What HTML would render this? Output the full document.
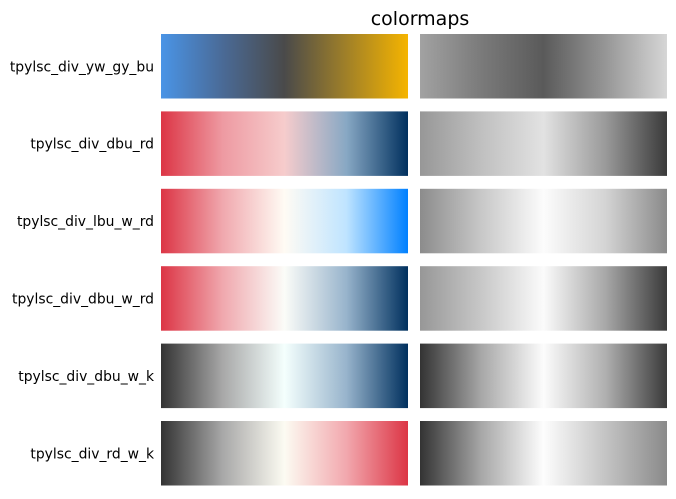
<!DOCTYPE html>
<html><head><meta charset="utf-8"><style>
body{margin:0;background:#fff;width:676px;height:495px;overflow:hidden;font-family:"DejaVu Sans","Liberation Sans",sans-serif}
</style></head><body>
<svg id="chart" width="676" height="495" xmlns="http://www.w3.org/2000/svg">
<defs id="defs"></defs>
<text x="420" y="25" font-size="19" font-family="DejaVu Sans, sans-serif" text-anchor="middle" fill="#000">colormaps</text>
</svg>
<script>
const names=["tpylsc_div_yw_gy_bu","tpylsc_div_dbu_rd","tpylsc_div_lbu_w_rd","tpylsc_div_dbu_w_rd","tpylsc_div_dbu_w_k","tpylsc_div_rd_w_k"];
const colorStops=[
 ["#4a94e6","#4a6a96","#4a4a4a","#a08028","#f5b400"],
 ["#dc3545","#ee9aa2","#f6cccc","#88a8c4","#00305e"],
 ["#dc3545","#f0a8ae","#fffbf4","#bfe4ff","#0080ff"],
 ["#dc3545","#f0a8ae","#fbfcf8","#98b4cc","#00305e"],
 ["#333333","#a8a8a8","#f4fffd","#98b4cc","#00305e"],
 ["#333333","#a8a8a8","#fcfbf2","#f2a8ae","#dc3545"]
];
const grayStops=[
 ["#a2a2a2","#7a7a7a","#5a5a5a","#969696","#d6d6d6"],
 ["#979797","#c0c0c0","#e2e2e2","#9a9a9a","#3a3a3a"],
 ["#8c8c8c","#c8c8c8","#fcfcfc","#d4d4d4","#8a8a8a"],
 ["#979797","#c8c8c8","#fbfbfb","#a8a8a8","#3a3a3a"],
 ["#333333","#a8a8a8","#fcfcfc","#b0b0b0","#3a3a3a"],
 ["#333333","#a8a8a8","#fdfdfd","#c4c4c4","#8a8a8a"]
];
const svg=document.getElementById('chart'),defs=document.getElementById('defs'),NS="http://www.w3.org/2000/svg";
const top0=34,rowStep=77.4,rowH=64.5,lx=161,rx=420,w=247;
function grad(id,stops){const g=document.createElementNS(NS,'linearGradient');g.setAttribute('id',id);
 stops.forEach((c,i)=>{const s=document.createElementNS(NS,'stop');s.setAttribute('offset',i/(stops.length-1));s.setAttribute('stop-color',c);g.appendChild(s);});defs.appendChild(g);}
names.forEach((n,i)=>{
 const y=top0+i*rowStep;
 grad('c'+i,colorStops[i]);grad('g'+i,grayStops[i]);
 const r1=document.createElementNS(NS,'rect');
 r1.setAttribute('x',lx);r1.setAttribute('y',y);r1.setAttribute('width',w);r1.setAttribute('height',rowH);r1.setAttribute('fill','url(#c'+i+')');
 
 
 svg.appendChild(r1);
 const r2=document.createElementNS(NS,'rect');
 r2.setAttribute('x',rx);r2.setAttribute('y',y);r2.setAttribute('width',w);r2.setAttribute('height',rowH);r2.setAttribute('fill','url(#g'+i+')');
 
 
 svg.appendChild(r2);
 const t=document.createElementNS(NS,'text');
 t.setAttribute('x',154);t.setAttribute('y',y+rowH/2+5);t.setAttribute('font-size','13.9');t.setAttribute('text-anchor','end');
 t.setAttribute('font-family','DejaVu Sans, sans-serif');
 t.textContent=n;
 
 
 svg.appendChild(t);
});
</script>
</body></html>
